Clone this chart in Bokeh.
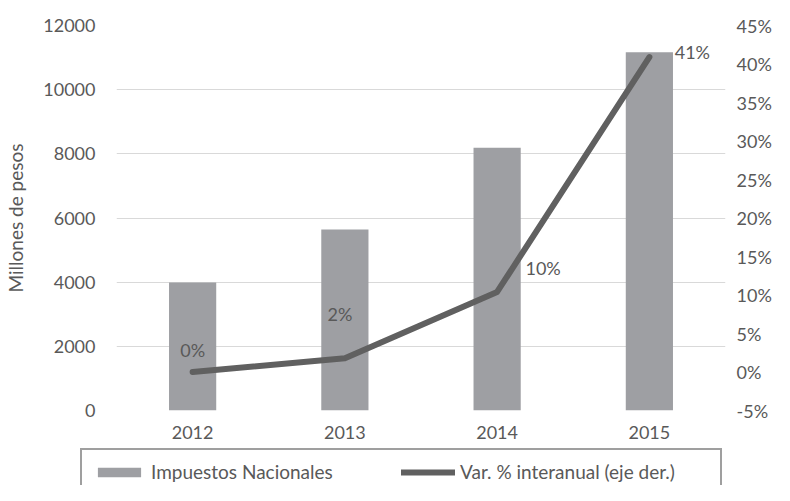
from bokeh.plotting import figure
from bokeh.models import (FactorRange, Range1d, LinearAxis, FixedTicker,
                          CustomJSTickFormatter, ColumnDataSource, Legend,
                          LegendItem)
from bokeh.layouts import column, row
from bokeh.core.properties import value
from bokeh.embed import file_html
from bokeh.resources import INLINE

# ---- data ----
years = ["2012", "2013", "2014", "2015"]
impuestos = [3990, 5640, 8190, 11170]          # Millones de pesos
variacion = [0.0, 1.8, 10.4, 40.9]             # Var. % interanual
var_labels = ["0%", "2%", "10%", "41%"]
left_ticks = [0, 2000, 4000, 6000, 8000, 10000, 12000]
right_ticks = [-5, 0, 5, 10, 15, 20, 25, 30, 35, 40, 45]
series_names = ["Impuestos Nacionales", "Var. % interanual (eje der.)"]

# ---- style ----
FONT = "Lato"
TXT = "#595959"
BAR_COLOR = "#9E9FA3"
LINE_COLOR = "#606060"
label_dx = [0, -5, 46, 43]
label_dy = [-22, -44, -24, -5]

src = ColumnDataSource(dict(year=years, imp=impuestos, var=variacion,
                            lbl=var_labels, dx=label_dx, dy=label_dy))

p = figure(width=774, height=447,
           x_range=FactorRange(*years, range_padding=0),
           y_range=Range1d(0, 12000),
           output_backend="svg", toolbar_location=None,
           min_border_left=116, min_border_right=46,
           min_border_top=25, min_border_bottom=37)
p.outline_line_color = None
p.background_fill_color = "white"
p.border_fill_color = "white"

p.extra_y_ranges = {"pct": Range1d(-5, 45)}

bars = p.vbar(x="year", top="imp", width=0.31, source=src,
              fill_color=BAR_COLOR, line_color=None)
line = p.line(x="year", y="var", source=src, y_range_name="pct",
              line_width=6, line_color=LINE_COLOR,
              line_cap="round", line_join="round")
p.text(x="year", y="var", text="lbl", source=src, y_range_name="pct",
       x_offset="dx", y_offset="dy", text_align="center",
       text_baseline="middle", text_font=value(FONT),
       text_font_size="18px", text_color=TXT)

# axes
p.yaxis.ticker = FixedTicker(ticks=left_ticks)
p.yaxis.axis_label = "Millones de pesos"
ax_r = LinearAxis(y_range_name="pct", ticker=FixedTicker(ticks=right_ticks),
                  formatter=CustomJSTickFormatter(code="return tick + '%';"))
p.add_layout(ax_r, "right")

for ax in [p.xaxis[0], p.yaxis[0], ax_r]:
    ax.axis_line_color = None
    ax.major_tick_line_color = None
    ax.minor_tick_line_color = None
    ax.major_tick_out = 0
    ax.major_tick_in = 0
    ax.minor_tick_out = 0
    ax.minor_tick_in = 0
    ax.major_label_text_font = FONT
    ax.major_label_text_font_size = "18px"
    ax.major_label_text_color = TXT
p.yaxis[0].major_label_standoff = 21
ax_r.major_label_standoff = 11
p.xaxis[0].major_label_standoff = 15
p.yaxis[0].axis_label_text_font = FONT
p.yaxis[0].axis_label_text_font_size = "19px"
p.yaxis[0].axis_label_text_font_style = "normal"
p.yaxis[0].axis_label_text_color = TXT
p.yaxis[0].axis_label_standoff = 13

p.xgrid.grid_line_color = None
p.ygrid.grid_line_color = "#D9D9D9"
p.ygrid.grid_line_width = 1

# ---- legend strip (separate figure directly under the chart) ----
q = figure(width=774, height=38, x_range=Range1d(0, 1), y_range=Range1d(0, 1),
           output_backend="svg", toolbar_location=None, min_border=0,
           x_axis_location=None, y_axis_location=None)
q.grid.visible = False
q.outline_line_color = None
q.background_fill_color = "white"
q.border_fill_color = "white"
# swatch-only renderers (kept far outside the strip's visible range)
lg_bar = q.vbar(x=[50], top=[0.5], bottom=[0.4], width=0.1,
                fill_color=BAR_COLOR, line_color=None)
lg_line = q.line(x=[50, 51], y=[0.5, 0.5], line_width=6, line_color=LINE_COLOR,
                 line_cap="round")

legend = Legend(items=[LegendItem(label=series_names[0], renderers=[lg_bar]),
                       LegendItem(label=series_names[1], renderers=[lg_line])],
                orientation="horizontal", location=(80, -10), margin=0,
                border_line_color="#404040", border_line_width=2,
                background_fill_color="white", background_fill_alpha=1,
                glyph_width=54, glyph_height=12, label_standoff=5,
                label_width=250, spacing=0, padding=10,
                label_text_font=FONT, label_text_font_size="19px",
                label_text_color=TXT)
q.add_layout(legend)

open("out.html", "w").write(file_html(column(p, row(q), spacing=0), INLINE))
